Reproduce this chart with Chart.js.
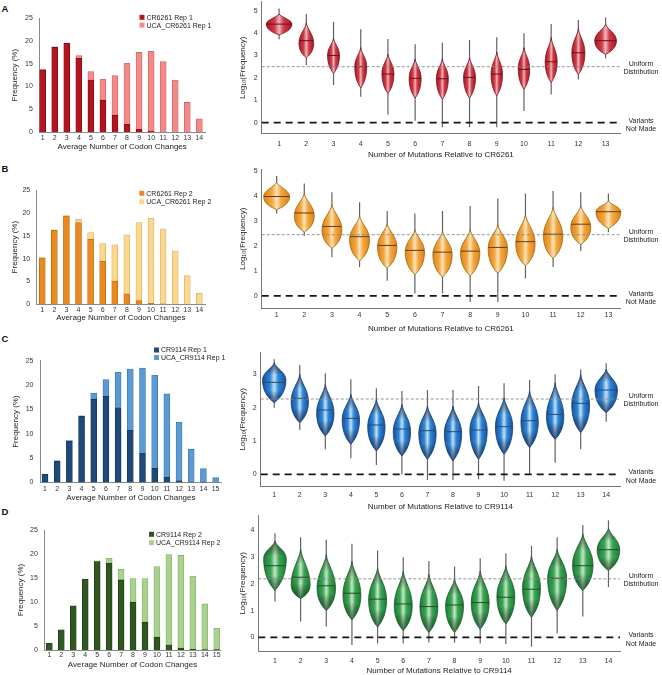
<!DOCTYPE html>
<html>
<head>
<meta charset="utf-8">
<script src="https://cdn.jsdelivr.net/npm/chart.js@4.4.1/dist/chart.umd.min.js"></script>
<style>
  html, body { margin: 0; padding: 0; background: #fff; }
  body { position: relative; width: 662px; height: 675px; overflow: hidden; font-family: "Liberation Sans", Arial, sans-serif; }
  canvas { position: absolute; }
  .panel { position: absolute; left: 1.5px; font-size: 9.5px; line-height: 10px; font-weight: bold; color: #111; }
</style>
</head>
<body>
<div class="panel" style="top:3.5px">A</div>
<div class="panel" style="top:163.5px">B</div>
<div class="panel" style="top:333.5px">C</div>
<div class="panel" style="top:506.5px">D</div>
<canvas id="barA"></canvas>
<canvas id="barB"></canvas>
<canvas id="barC"></canvas>
<canvas id="barD"></canvas>
<canvas id="vioA"></canvas>
<canvas id="vioB"></canvas>
<canvas id="vioC"></canvas>
<canvas id="vioD"></canvas>
<script>
// --- bar data: % of variants per codon-change count (stacked: mature on bottom, UCA on top) ---
const codons14 = [1, 2, 3, 4, 5, 6, 7, 8, 9, 10, 11, 12, 13, 14];
const codons15 = [1, 2, 3, 4, 5, 6, 7, 8, 9, 10, 11, 12, 13, 14, 15];
const freqTicks = [0, 5, 10, 15, 20, 25];

const crA  = [13.6, 18.6, 19.5, 16.2, 11.4, 7.0, 3.7, 1.7, 0.6, 0.15, 0, 0, 0, 0];
const ucaA = [0.2, 0.1, 0.05, 0.6, 1.9, 4.6, 8.7, 13.4, 16.9, 17.6, 15.5, 11.4, 6.5, 2.9];
const crB  = [10.1, 16.2, 19.3, 17.9, 14.2, 9.4, 5.1, 2.3, 0.8, 0.2, 0.1, 0, 0, 0];
const ucaB = [0.1, 0.1, 0.1, 0.7, 1.5, 3.9, 7.9, 12.9, 17.1, 18.6, 16.4, 11.7, 6.3, 2.4];
const crC  = [1.7, 4.4, 8.5, 13.6, 17.1, 17.7, 15.4, 10.7, 6.1, 2.9, 1.1, 0.4, 0.15, 0.07, 0];
const ucaC = [0.05, 0.05, 0.1, 0.1, 1.2, 3.4, 7.2, 12.6, 17.4, 19.1, 17.1, 12.0, 6.65, 2.8, 1.0];
const crD  = [1.4, 4.2, 9.2, 14.8, 18.4, 18.05, 14.6, 10.0, 5.8, 2.7, 1.1, 0.4, 0.14, 0.1, 0.07];
const ucaD = [0, 0, 0, 0, 0.2, 1.05, 2.2, 4.9, 9.1, 14.7, 18.8, 19.3, 15.26, 9.5, 4.43];

// --- violin data: log10(frequency) per mutation count ---
const muts13 = [1, 2, 3, 4, 5, 6, 7, 8, 9, 10, 11, 12, 13];
const muts14 = [1, 2, 3, 4, 5, 6, 7, 8, 9, 10, 11, 12, 13, 14];
const logTicks5 = [0, 1, 2, 3, 4, 5];
const logTicks3 = [0, 1, 2, 3];
const logTicks4 = [0, 1, 2, 3, 4];
const uniformLevels = [2.5, 2.45, 2.26, 2.19];

const aMin  = [3.72, 2.57, 1.68, 1.16, 0.37, 0.09, -0.2, -0.2, -0.2, 0.52, 1.26, 1.93, 2.87];
const aMax  = [5.1, 4.85, 4.5, 4.17, 3.73, 3.5, 3.57, 3.69, 3.81, 3.99, 4.4, 4.58, 4.7];
const aLo   = [3.92, 2.9, 2.2, 1.55, 1.3, 1.1, 1.05, 1.1, 1.2, 1.5, 1.8, 2.15, 3.05];
const aHi   = [4.85, 4.45, 3.75, 3.35, 3.05, 2.85, 2.85, 2.9, 3.15, 3.35, 3.8, 4.2, 4.4];
const aPeak = [4.4, 3.54, 3.02, 2.5, 2.2, 1.98, 1.98, 2.02, 2.17, 2.4, 2.72, 3.12, 3.66];
const aMed  = [4.4, 3.66, 3.0, 2.5, 2.17, 1.98, 1.96, 2.02, 2.17, 2.38, 2.72, 3.12, 3.66];
const aHalf = [0.47, 0.27, 0.22, 0.22, 0.22, 0.22, 0.22, 0.22, 0.21, 0.21, 0.22, 0.24, 0.4];

const bMin  = [3.3, 2.4, 1.55, 1.15, 0.6, 0.1, 0.1, -0.25, -0.25, 0.7, 1.15, 1.8, 2.55];
const bMax  = [4.8, 4.5, 4.15, 3.75, 3.4, 3.3, 3.4, 3.6, 3.9, 4.1, 4.2, 4.15, 4.1];
const bLo   = [3.45, 2.55, 1.9, 1.4, 1.1, 0.85, 0.75, 0.8, 0.9, 1.2, 1.5, 2.05, 2.7];
const bHi   = [4.55, 4.1, 3.65, 3.2, 2.9, 2.65, 2.6, 2.65, 2.85, 3.25, 3.55, 3.6, 3.8];
const bPeak = [3.98, 3.2, 2.65, 2.25, 1.97, 1.76, 1.65, 1.72, 1.9, 2.1, 2.4, 2.75, 3.37];
const bMed  = [3.98, 3.32, 2.78, 2.37, 2.02, 1.82, 1.75, 1.79, 1.94, 2.17, 2.47, 2.87, 3.37];
const bHalf = [0.47, 0.36, 0.36, 0.36, 0.35, 0.35, 0.35, 0.35, 0.35, 0.35, 0.35, 0.36, 0.45];

const cMin  = [2.0, 1.33, 0.75, 0.48, 0.28, 0.0, -0.17, -0.17, -0.15, -0.19, -0.02, 0.35, 0.76, 1.58];
const cMax  = [3.45, 3.28, 3.03, 2.85, 2.58, 2.5, 2.53, 2.53, 2.65, 2.73, 2.83, 3.0, 3.15, 3.33];
const cLo   = [2.15, 1.55, 1.15, 0.9, 0.7, 0.55, 0.45, 0.4, 0.45, 0.6, 0.8, 1.05, 1.25, 1.85];
const cHi   = [3.35, 3.0, 2.7, 2.4, 2.25, 2.1, 2.05, 2.05, 2.15, 2.3, 2.5, 2.75, 3.0, 3.15];
const cPeak = [2.83, 2.18, 1.83, 1.63, 1.43, 1.28, 1.23, 1.23, 1.33, 1.43, 1.58, 1.73, 2.08, 2.53];
const cMed  = [2.76, 2.28, 1.93, 1.68, 1.48, 1.36, 1.31, 1.28, 1.33, 1.43, 1.61, 1.8, 2.13, 2.53];
const cHalf = [0.46, 0.34, 0.34, 0.34, 0.34, 0.34, 0.34, 0.34, 0.34, 0.34, 0.34, 0.34, 0.35, 0.44];

const dMin  = [1.34, 0.59, 0.4, -0.29, -0.23, -0.23, -0.2, -0.2, -0.23, -0.25, -0.35, 0.15, 0.78, 1.88];
const dMax  = [3.9, 3.75, 3.65, 3.5, 3.25, 3.0, 2.86, 2.65, 2.96, 3.15, 3.43, 3.75, 4.21, 4.38];
const dLo   = [1.75, 1.45, 1.0, 0.65, 0.38, 0.25, 0.18, 0.18, 0.3, 0.5, 0.75, 1.0, 1.75, 2.5];
const dHi   = [3.6, 3.3, 3.1, 2.85, 2.6, 2.48, 2.36, 2.18, 2.48, 2.68, 3.05, 3.3, 3.88, 4.08];
const dPeak = [2.95, 1.96, 1.84, 1.59, 1.4, 1.18, 1.15, 1.18, 1.3, 1.53, 1.84, 2.21, 2.71, 3.28];
const dMed  = [2.68, 2.25, 1.93, 1.65, 1.43, 1.25, 1.15, 1.21, 1.3, 1.5, 1.8, 2.21, 2.68, 3.28];
const dHalf = [0.44, 0.37, 0.36, 0.35, 0.35, 0.35, 0.35, 0.35, 0.35, 0.35, 0.35, 0.37, 0.4, 0.44];

Chart.defaults.font.family = '"Liberation Sans", Arial, sans-serif';
Chart.defaults.color = '#333';

function place(id, left, top, width, height) {
    const c = document.getElementById(id);
    c.width = width;
    c.height = height;
    c.style.left = left + 'px';
    c.style.top = top + 'px';
    return c;
}

// small square legend drawn inside the plot (Chart.js has no "inside top-right" slot)
function boxLegend(x, y, gap) {
    return {
        id: 'boxLegend',
        afterDraw(chart) {
            const ctx = chart.ctx;
            ctx.save();
            ctx.font = '7px "Liberation Sans", Arial';
            ctx.textBaseline = 'middle';
            chart.data.datasets.forEach((ds, i) => {
                const yy = y + i * gap;
                ctx.fillStyle = ds.backgroundColor;
                ctx.fillRect(x, yy - 2.5, 5, 5);
                ctx.fillStyle = '#222';
                ctx.fillText(ds.label, x + 7, yy + 0.5);
            });
            ctx.restore();
        }
    };
}

function barChart(id, s) {
    const left = Math.floor(s.yTitleX - 4.8);
    const top = Math.floor(s.area.t - 14);
    const width = Math.ceil(s.area.r + 6 - left);
    const height = Math.ceil(s.titleY + 4.8 - top);
    const cv = place(id, left, top, width, height);
    const yw = s.area.l - left;
    const xh = height - (s.area.b - top);
    return new Chart(cv, {
        type: 'bar',
        data: {
            datasets: [
                { label: s.names[0], data: s.cats.map((c, i) => ({ x: c, y: s.dark[i] })),
                  backgroundColor: s.colors[0], borderColor: s.colors[1], borderWidth: 0.8, barThickness: 6, order: 0 },
                { label: s.names[1], data: s.cats.map((c, i) => ({ x: c, y: s.light[i] })),
                  backgroundColor: s.colors[2], borderColor: s.colors[3], borderWidth: 0.8, barThickness: 6, order: 1 }
            ]
        },
        options: {
            responsive: false,
            animation: false,
            layout: { padding: { left: 0, top: s.area.t - top, right: width - (s.area.r - left), bottom: 0 } },
            plugins: { legend: { display: false }, tooltip: { enabled: false } },
            scales: {
                x: {
                    type: 'linear', stacked: true, offset: false, min: s.xr[0], max: s.xr[1],
                    grid: { display: false, drawTicks: false },
                    border: { color: '#8a8a8a' },
                    ticks: { font: { size: 7 }, padding: s.labelY - s.area.b - 4.5, color: '#333',
                             autoSkip: false, maxRotation: 0, minRotation: 0 },
                    afterBuildTicks: sc => { sc.ticks = s.cats.map(v => ({ value: v })); },
                    afterFit: sc => { sc.height = xh; },
                    title: { display: true, text: 'Average Number of Codon Changes', font: { size: 8 }, padding: 0, color: '#222' }
                },
                y: {
                    stacked: true, min: 0, max: 25,
                    grid: { display: false, drawTicks: false },
                    border: { color: '#8a8a8a' },
                    ticks: { font: { size: 7 }, padding: 6.5, color: '#333' },
                    afterBuildTicks: sc => { sc.ticks = freqTicks.map(v => ({ value: v })); },
                    afterFit: sc => { sc.width = yw; },
                    title: { display: true, text: 'Frequency (%)', font: { size: 8 }, padding: 0, color: '#222' }
                }
            }
        },
        plugins: [boxLegend(s.legend[0] - left, s.legend[1] - top, s.legend[2])]
    });
}

// violins drawn through the chart's own x/y scales
function violinLayer(v, col) {
    return {
        id: 'violins',
        beforeDatasetsDraw(chart) {
            const xs = chart.scales.x, ys = chart.scales.y, ctx = chart.ctx;
            ctx.save();
            v.pos.forEach((p, i) => {
                const cx = xs.getPixelForValue(p);
                const w = xs.getPixelForValue(p + v.half[i]) - cx;
                const yMin = ys.getPixelForValue(v.min[i]);
                const yMax = ys.getPixelForValue(v.max[i]);
                const yLo = ys.getPixelForValue(v.lo[i]);
                const yHi = ys.getPixelForValue(v.hi[i]);
                const yPk = ys.getPixelForValue(v.peak[i]);
                const yMed = ys.getPixelForValue(v.med[i]);

                // thin tail of points
                ctx.strokeStyle = 'rgba(70,70,70,0.85)';
                ctx.lineWidth = 1.2;
                ctx.beginPath();
                ctx.moveTo(cx, yMin);
                ctx.lineTo(cx, yMax);
                ctx.stroke();

                // lower half a little fuller, upper half tapering to a point
                const dl = yLo - yPk, du = yPk - yHi;
                const path = new Path2D();
                path.moveTo(cx, yLo);
                path.bezierCurveTo(cx - w * 0.28, yLo - dl * 0.12, cx - w, yPk + dl * 0.6, cx - w, yPk);
                path.bezierCurveTo(cx - w, yPk - du * 0.45, cx - w * 0.12, yHi + du * 0.3, cx, yHi);
                path.bezierCurveTo(cx + w * 0.12, yHi + du * 0.3, cx + w, yPk - du * 0.45, cx + w, yPk);
                path.bezierCurveTo(cx + w, yPk + dl * 0.6, cx + w * 0.28, yLo - dl * 0.12, cx, yLo);
                path.closePath();

                const g = ctx.createLinearGradient(cx - w, 0, cx + w, 0);
                g.addColorStop(0, col.edge);
                g.addColorStop(0.32, col.base);
                g.addColorStop(0.5, col.center);
                g.addColorStop(0.68, col.base);
                g.addColorStop(1, col.edge);
                ctx.fillStyle = g;
                ctx.fill(path);

                if (col.tip) {
                    const t = ctx.createLinearGradient(0, yHi, 0, yLo);
                    t.addColorStop(0, col.tip);
                    t.addColorStop(0.3, 'rgba(0,0,0,0)');
                    t.addColorStop(0.7, 'rgba(0,0,0,0)');
                    t.addColorStop(1, col.tip);
                    ctx.fillStyle = t;
                    ctx.fill(path);
                }

                ctx.strokeStyle = col.line;
                ctx.lineWidth = 0.8;
                ctx.stroke(path);

                ctx.save();
                ctx.clip(path);
                ctx.strokeStyle = col.med;
                ctx.lineWidth = 1;
                ctx.beginPath();
                ctx.moveTo(cx - w, yMed);
                ctx.lineTo(cx + w, yMed);
                ctx.stroke();
                ctx.restore();
            });
            ctx.restore();
        }
    };
}

// "Uniform Distribution" / "Variants Not Made" notes right of the plot
function sideNotes(uniform) {
    return {
        id: 'sideNotes',
        afterDraw(chart) {
            const ctx = chart.ctx, ys = chart.scales.y;
            const x = chart.chartArea.right + 21;
            ctx.save();
            ctx.font = '7px "Liberation Sans", Arial';
            ctx.fillStyle = '#222';
            ctx.textAlign = 'center';
            ctx.textBaseline = 'middle';
            const yu = ys.getPixelForValue(uniform);
            ctx.fillText('Uniform', x, yu - 3);
            ctx.fillText('Distribution', x, yu + 5.5);
            const y0 = ys.getPixelForValue(0);
            ctx.fillText('Variants', x, y0 - 2);
            ctx.fillText('Not Made', x, y0 + 6.5);
            ctx.restore();
        }
    };
}

function violinChart(id, s) {
    const left = 238;
    const top = Math.floor(s.area.t - 12);
    const width = 662 - left;
    const height = Math.ceil(s.titleY + 4.8 - top);
    const cv = place(id, left, top, width, height);
    const yw = s.area.l - left;
    const xh = height - (s.area.b - top);
    return new Chart(cv, {
        type: 'line',
        data: {
            datasets: [
                { data: [{ x: s.xr[0], y: s.uniform }, { x: s.xr[1], y: s.uniform }],
                  borderColor: '#888', borderWidth: 0.9, borderDash: [3, 2], pointRadius: 0 },
                { data: [{ x: s.xr[0], y: 0 }, { x: s.xr[1], y: 0 }],
                  borderColor: '#151515', borderWidth: 1.8, borderDash: [7, 5], pointRadius: 0 }
            ]
        },
        options: {
            responsive: false,
            animation: false,
            layout: { padding: { left: 0, top: s.area.t - top, right: width - (s.area.r - left), bottom: 0 } },
            plugins: { legend: { display: false }, tooltip: { enabled: false } },
            scales: {
                x: {
                    type: 'linear', min: s.xr[0], max: s.xr[1],
                    grid: { display: false, drawTicks: false },
                    border: { color: '#777' },
                    ticks: { font: { size: 7 }, padding: s.labelY - s.area.b - 4.5, color: '#333',
                             autoSkip: false, maxRotation: 0, minRotation: 0 },
                    afterBuildTicks: sc => { sc.ticks = s.v.pos.map(v => ({ value: v })); },
                    afterFit: sc => { sc.height = xh; },
                    title: { display: true, text: s.xTitle, font: { size: 8 }, padding: 0, color: '#222' }
                },
                y: {
                    type: 'linear', min: s.yr[0], max: s.yr[1],
                    grid: { display: false, drawTicks: false },
                    border: { color: '#777' },
                    ticks: { font: { size: 7 }, padding: 4, color: '#333' },
                    afterBuildTicks: sc => { sc.ticks = s.yTicks.map(v => ({ value: v })); },
                    afterFit: sc => { sc.width = yw; },
                    title: { display: true, text: 'Log\u2081\u2080(Frequency)', font: { size: 8 }, padding: 0, color: '#222' }
                }
            }
        },
        plugins: [violinLayer(s.v, s.colors), sideNotes(s.uniform)]
    });
}

// --- left column: bar charts ---
barChart('barA', {
    area: { l: 39.3, r: 205, t: 18.3, b: 132 }, xr: [0.72, 14.47], cats: codons14,
    dark: crA, light: ucaA, names: ['CR6261 Rep 1', 'UCA_CR6261 Rep 1'],
    colors: ['#b3141e', '#7d0d14', '#f28a8b', '#d36466'],
    legend: [139.5, 17.3, 7.8], yTitleX: 15, labelY: 138.5, titleY: 146.5
});
barChart('barB', {
    area: { l: 36.7, r: 205, t: 190, b: 304.3 }, xr: [0.54, 14.47], cats: codons14,
    dark: crB, light: ucaB, names: ['CR6261 Rep 2', 'UCA_CR6261 Rep 2'],
    colors: ['#ea8a1e', '#b86a12', '#fad98e', '#d8b266'],
    legend: [139.3, 193.3, 8.4], yTitleX: 15, labelY: 310, titleY: 318
});
barChart('barC', {
    area: { l: 40, r: 221.7, t: 360.7, b: 482.5 }, xr: [0.59, 15.5], cats: codons15,
    dark: crC, light: ucaC, names: ['CR9114 Rep 1', 'UCA_CR9114 Rep 1'],
    colors: ['#1f4a78', '#15345a', '#5b9bd5', '#3f7ab0'],
    legend: [154, 350, 7.5], yTitleX: 16.7, labelY: 489, titleY: 497.5
});
barChart('barD', {
    area: { l: 44.3, r: 220.7, t: 530, b: 650 }, xr: [0.58, 15.33], cats: codons15,
    dark: crD, light: ucaD, names: ['CR9114 Rep 2', 'UCA_CR9114 Rep 2'],
    colors: ['#2f5722', '#1f3d16', '#a8d28e', '#84b26a'],
    legend: [149, 534.3, 8.4], yTitleX: 21.7, labelY: 655.5, titleY: 665
});

// --- right column: violin plots ---
violinChart('vioA', {
    area: { l: 261.7, r: 620, t: 1.7, b: 133.9 }, xr: [0.36, 13.53], yr: [-0.5, 5.4], yTicks: logTicks5,
    v: { pos: muts13, min: aMin, max: aMax, lo: aLo, hi: aHi, peak: aPeak, med: aMed, half: aHalf },
    colors: { edge: '#a51a28', base: '#cf3a47', center: '#f0b6bb', line: '#7d1019', med: '#6b1018' },
    uniform: uniformLevels[0], xTitle: 'Number of Mutations Relative to CR6261', labelY: 144, titleY: 155
});
violinChart('vioB', {
    area: { l: 261.7, r: 620, t: 169.3, b: 308.3 }, xr: [0.46, 13.42], yr: [-0.5, 5.07], yTicks: logTicks5,
    v: { pos: muts13, min: bMin, max: bMax, lo: bLo, hi: bHi, peak: bPeak, med: bMed, half: bHalf },
    colors: { edge: '#e08216', base: '#f3a63c', center: '#f8e3bb', line: '#9c6412', med: '#5a4020' },
    uniform: uniformLevels[1], xTitle: 'Number of Mutations Relative to CR6261', labelY: 315, titleY: 329
});
violinChart('vioC', {
    area: { l: 260.7, r: 620, t: 352.7, b: 486 }, xr: [0.47, 14.54], yr: [-0.35, 3.65], yTicks: logTicks3,
    v: { pos: muts14, min: cMin, max: cMax, lo: cLo, hi: cHi, peak: cPeak, med: cMed, half: cHalf },
    colors: { edge: '#1a4f9c', base: '#2f86d6', center: '#c0e1f6', line: '#163d75', med: '#2a4a70', tip: 'rgba(10,30,100,0.75)' },
    uniform: uniformLevels[2], xTitle: 'Number of Mutations Relative to CR9114', labelY: 495, titleY: 507
});
violinChart('vioD', {
    area: { l: 258.3, r: 620, t: 515, b: 651.7 }, xr: [0.35, 14.45], yr: [-0.54, 4.58], yTicks: logTicks4,
    v: { pos: muts14, min: dMin, max: dMax, lo: dLo, hi: dHi, peak: dPeak, med: dMed, half: dHalf },
    colors: { edge: '#1e7a36', base: '#3aa656', center: '#c6e7c4', line: '#1d5a2a', med: '#2a4a2a', tip: 'rgba(10,60,25,0.7)' },
    uniform: uniformLevels[3], xTitle: 'Number of Mutations Relative to CR9114', labelY: 661, titleY: 671
});
</script>
</body>
</html>
